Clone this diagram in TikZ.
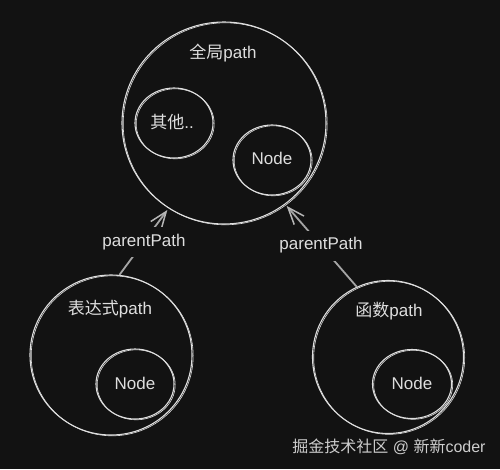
\documentclass[tikz,border=0pt]{standalone}
\usepackage{fontspec}
\setmainfont{Liberation Sans}
\newfontfamily\cjk{Noto Sans CJK SC}
\usetikzlibrary{shapes.geometric,arrows.meta}
\definecolor{board}{RGB}{18,18,18}
\definecolor{chalk}{RGB}{222,222,222}
\definecolor{shaft}{RGB}{165,165,165}
\definecolor{mark}{RGB}{205,205,205}

\begin{document}
\begin{tikzpicture}[x=1pt, y=-1pt,
    ring/.style={draw=chalk, ellipse, line width=1.1pt, inner sep=0pt,
        postaction={draw=chalk, line width=0.6pt, transform canvas={xshift=1.2pt, yshift=-0.8pt}}},
    label/.style={text=chalk, font=\fontsize{17}{20}\selectfont},
    tag/.style={label, fill=board, inner xsep=2pt, inner ysep=7pt},
    link/.style={draw=shaft, line width=1.8pt, shorten >=2pt,
        -{Straight Barb[length=17pt, width=13pt, line width=1.5pt, color=shaft!70!chalk]}}]
    \fill[board] (0,0) rectangle (500,469);
    \useasboundingbox (0,0) rectangle (500,469);

    % Scopes
    \node[ring, minimum width=204pt, minimum height=202pt] (global) at (224,123) {};
    \node[label] (globalname) at (223,53) {{\cjk 全局}path};
    \node[ring, minimum width=78pt, minimum height=70pt] (other) at (174,123) {};
    \node[label] (othername) at (172,122) {{\cjk 其他}..};
    \node[ring, minimum width=78pt, minimum height=70pt] (globalnode) at (272,160) {};
    \node[label] (globalnodename) at (272,158) {Node};

    \node[ring, minimum width=162pt, minimum height=160pt] (expr) at (111,355) {};
    \node[label] (exprname) at (110,309) {{\cjk 表达式}path};
    \node[ring, minimum width=78pt, minimum height=70pt] (exprnode) at (135,384) {};
    \node[label] (exprnodename) at (135,383) {Node};

    \node[ring, minimum width=151pt, minimum height=153pt] (func) at (388,357) {};
    \node[label] (funcname) at (389,311) {{\cjk 函数}path};
    \node[ring, minimum width=79pt, minimum height=69pt] (funcnode) at (412,384) {};
    \node[label] (funcnodename) at (412,383) {Node};

    % Arrows
    \draw[link] (expr.84) -- node[tag] (exprtag) {parentPath} (global.237);
    \draw[link] (func.114) -- node[tag] (functag) {parentPath} (global.307);

    % Watermark
    \node[text=mark, font=\fontsize{16}{19}\selectfont] (watermark) at (389,447) {{\cjk 掘金技术社区} @ {\cjk 新新}coder};
\end{tikzpicture}
\end{document}
